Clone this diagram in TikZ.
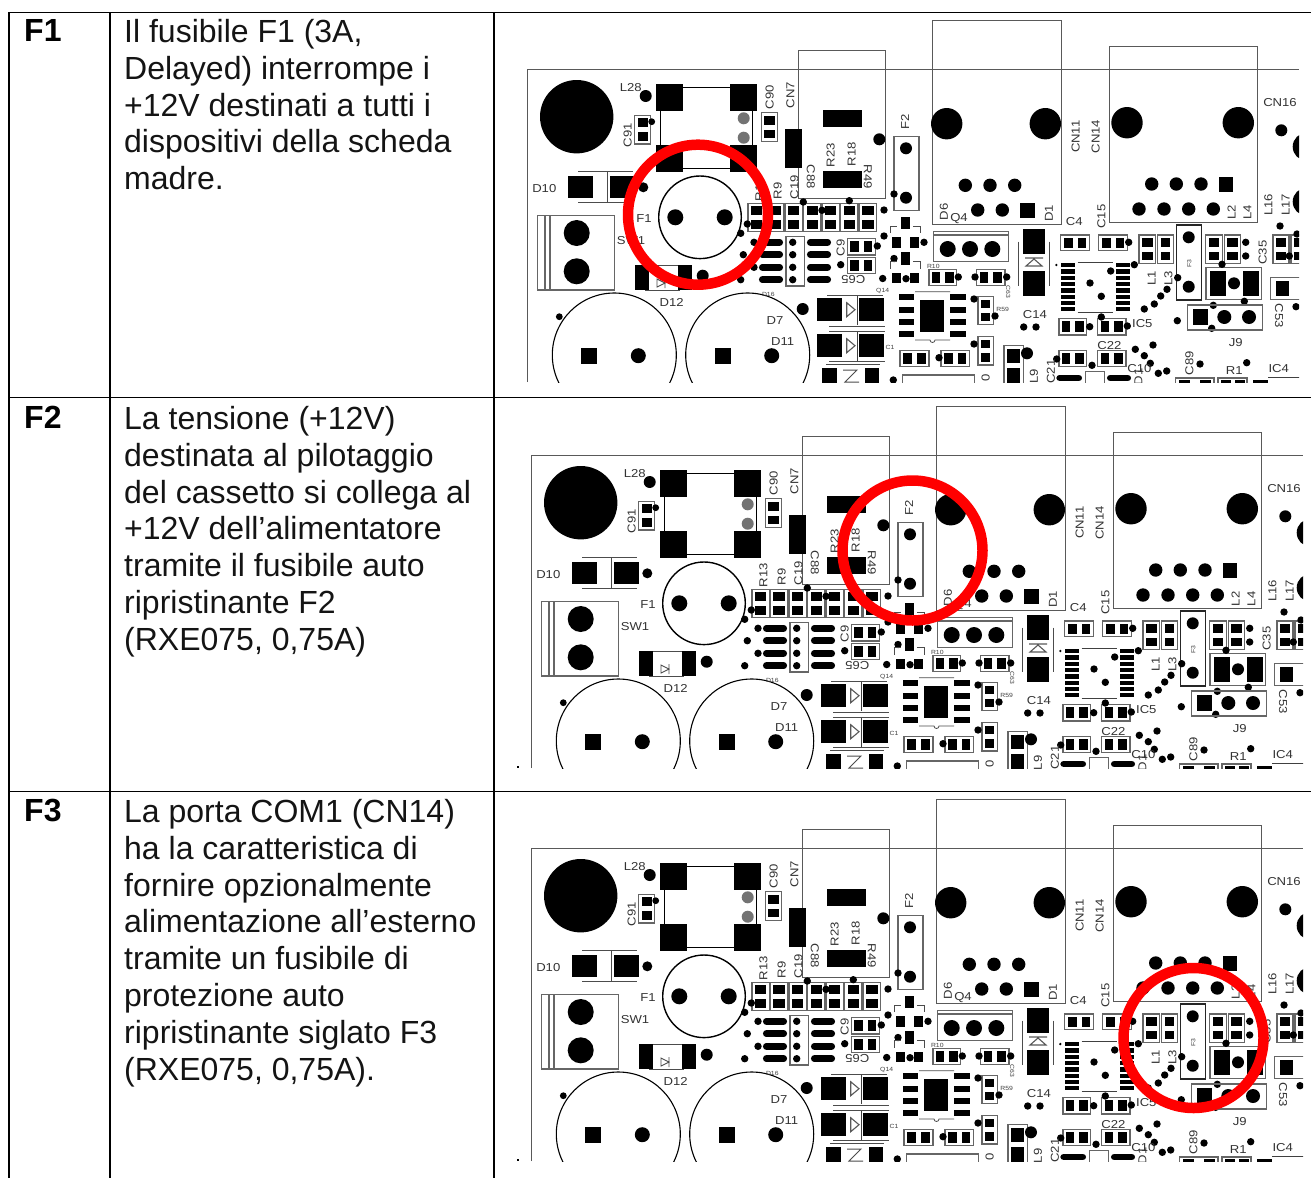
\documentclass[tikz,border=0pt]{standalone}
\usepackage{fontspec}
\setmainfont{Liberation Sans}
\newfontfamily\lblfont[FakeStretch=1.14]{Liberation Sans}
\newcount\lblc
\tikzset{
  x=1pt,y=-1pt,
  tline/.style={draw=black,line width=1.7pt},
  bline/.style={draw=black!65,line width=1pt},
  cline/.style={draw=black!60,line width=1.3pt},
  cell/.style={anchor=north west,inner sep=0pt,align=left,text=black!92,font=\fontsize{32}{36.85}\selectfont},
  cellb/.style={anchor=north west,inner sep=0pt,align=left,text=black,font=\bfseries\fontsize{32}{36.85}\selectfont},
  lbltxt/.style={inner sep=0pt,text=black!80,font=\lblfont\fontsize{11.5}{12}\selectfont},
  tiny/.style={inner sep=0pt,text=black!75,font=\lblfont\fontsize{6}{6}\selectfont},
  redring/.style={draw=red,line width=10.5pt}
}
\newcommand\pd[4]{\fill[black] (#1,#2) rectangle (#3,#4);}
\newcommand\hl[3]{\fill[black] (#1,#2) circle[radius=#3];}
\newcommand\hs[2]{\fill[black] (#1,#2) circle[radius=3.7];}
\newcommand\lb[4][]{\global\advance\lblc by 1 \node[lbltxt,#1] (lbl\the\lblc) at (#2,#3) {#4};}
\newcommand\lbt[4][]{\global\advance\lblc by 1 \node[tiny,#1] (lbl\the\lblc) at (#2,#3) {#4};}
% horizontal capacitor: box with pads left and right
\newcommand\cph[4]{\draw[cline] (#1,#2) rectangle (#3,#4);
  \fill[black] ({#1+3},{#2+2.6}) rectangle ({(#1+#3)/2-2.5},{#4-2.6});
  \fill[black] ({(#1+#3)/2+2.5},{#2+2.6}) rectangle ({#3-3},{#4-2.6});}
% vertical capacitor: pads top and bottom
\newcommand\cpv[4]{\draw[cline] (#1,#2) rectangle (#3,#4);
  \fill[black] ({#1+3},{#2+3}) rectangle ({#3-3},{(#2+#4)/2-2.5});
  \fill[black] ({#1+3},{(#2+#4)/2+2.5}) rectangle ({#3-3},{#4-3});}
\newcommand\ovl[3]{\draw[black,line width=6.7pt,line cap=round] ({#1+3},#3) -- ({#2-3},#3);}
\newcommand\board{%
  % outline and connector housings
  \draw[bline] (527.5,382) -- (527.5,69) -- (1299,69);
  \draw[bline] (798.7,198) -- (798.7,50) -- (885.7,50) -- (885.7,198) -- cycle;
  \draw[bline] (932,20.7) rectangle (1061.7,224);
  \draw[bline] (1109,46.7) rectangle (1257.3,222.7);
  % top left
  \hl{576.7}{116.7}{36.7}
  \hl{645.7}{96}{6}
  \draw[black,line width=1pt] (683,87.3) -- (730,87.3) (660.3,110) -- (660.3,145) (683,168) -- (730,168) (752.5,110) -- (752.5,145);
  \pd{656}{84}{683}{110.7} \pd{730}{84}{757}{110.7}
  \pd{656}{144.7}{683}{171.7} \pd{730}{144.7}{757}{171.7}
  \fill[black!55] (743.7,118.3) circle[radius=6] (743.7,137.7) circle[radius=6];
  \cpv{634.7}{115.3}{650.7}{144} \hl{651.7}{121.7}{3.4}
  \cpv{761.3}{112.7}{777.7}{141.3}
  \lb[rotate=90]{627.7}{135}{C91}
  \lb[rotate=90]{769.7}{97.3}{C90}
  \lb[rotate=90]{790.3}{95}{CN7}
  \lb{630.7}{88}{L28}
  \pd{785.3}{129}{802}{168}
  \pd{822.7}{110}{861.7}{127} \pd{822.7}{171}{861.7}{187.7}
  \hl{879.3}{139.3}{6}
  \lb[rotate=90]{830.7}{155}{R23}
  \lb[rotate=90]{851.7}{154}{R18}
  \lb[rotate=-90]{867.7}{176.7}{R49}
  \lb[rotate=-90]{810.7}{176.7}{C88}
  \lb[rotate=90]{905}{121.7}{F2}
  \draw[cline] (894,136.7) rectangle (919,210.7);
  \hl{906}{148.3}{6} \hl{906}{197.7}{6} \hs{894}{194}
  % D10
  \lb{544.3}{189}{D10}
  \pd{568.3}{175.7}{593.3}{198.3} \pd{610}{175.7}{635}{198.3}
  \draw[black!70,line width=.8pt] (578,171.7) -- (633,171.7) (607.7,171.7) -- (607.7,201.7) (578,202) -- (633,202);
  \hl{643.3}{187.3}{5}
  % fuse F1
  \draw[black,line width=1.4pt] (700,217.3) circle[radius=41.3];
  \hl{675.3}{217.3}{8} \hl{724.7}{217.3}{8}
  \lb{644}{218.3}{F1}
  % SW1
  \draw[cline] (537.3,215.3) rectangle (614.7,290);
  \draw[cline] (545,215.3) -- (545,290) (550,215.3) -- (550,290);
  \hl{576.7}{233}{13} \hl{576.7}{271.3}{13}
  \lb{631}{240.7}{SW1}
  % D12
  \draw[black!70,line width=.8pt] (649,265) -- (678,265) (645,290) -- (680,290);
  \pd{635}{265}{649.3}{290} \pd{677.7}{265}{692}{290}
  \draw[black!70,line width=.9pt] (657,279) -- (657,287) -- (665,283) -- cycle (665,278) -- (665,288);
  \hl{702.7}{275.7}{6}
  \lb{671.7}{302.3}{D12}
  % big capacitors
  \draw[black,line width=1.1pt] (614.3,355) circle[radius=62] (747.7,355) circle[radius=62];
  \pd{581.3}{347.7}{597.3}{364} \hl{638.3}{355.7}{7.5}
  \pd{714.7}{347.7}{730.7}{364} \hl{771.7}{355.7}{7.5}
  \hl{559.3}{316.7}{3.4}
  \lb{775}{320.7}{D7} \lb{782.7}{342}{D11} \lbt{768.3}{294.3}{D16}
  \hl{802.7}{309}{6}
  % resistor row
  \foreach \cx in {756.7,775,793.7,812.3,830.7,849.3,868}{\cpv{\cx-8.7}{203.3}{\cx+8.7}{231.7}}
  \lb[rotate=90]{759.3}{189}{R13}
  \lb[rotate=90]{777.7}{191}{R9}
  \lb[rotate=90]{794.3}{187}{C19}
  \hs{803.3}{202} \hs{849.3}{200.7} \hs{822}{210.3} \hs{884}{210}
  \hs{747.3}{224} \hs{740.7}{233.3}
  % ovals and connector
  \foreach \yy in {242.3,254.7,267.3,279.7}{\ovl{759.3}{782.7}{\yy} \ovl{807.3}{830.7}{\yy} \hs{792.7}{\yy}}
  \hs{754}{242.3} \hs{743.3}{254.7} \hs{754}{267.3} \hs{740.7}{279.7}
  \draw[cline] (786,236.7) rectangle (804.3,286);
  \cph{847.3}{238.7}{875.3}{255} \cph{847.3}{257.7}{875.3}{273.3}
  \lb[rotate=90]{840.7}{248}{C9}
  \lb[rotate=180]{853.3}{279.3}{C65}
  \hs{877.3}{246} \hs{840.7}{264.7} \hs{884}{236} \hs{882.7}{278.5} \hs{894}{258.5} \hs{924}{242.3} \hs{906}{278.7}
  % transistors
  \foreach \dy in {0,35.7}{
    \pd{900.7}{216.7+\dy}{910}{229.3+\dy}
    \pd{891.7}{237.3+\dy}{901}{247.7+\dy}
    \pd{910}{237.3+\dy}{919.3}{247.7+\dy}
    \draw[black!70,line width=.8pt] (890.7,233+\dy) -- (890.7,226+\dy) -- (897,226+\dy) (913,226+\dy) -- (920.7,226+\dy) -- (920.7,233+\dy);
  }
  % Q4
  \draw[cline] (933.3,231.7) rectangle (1008.3,261.7) (933.3,235) -- (1008.3,235);
  \hl{947.7}{249}{8} \hl{970}{249}{8} \hl{992.3}{249}{8}
  \cph{929}{269.3}{956.7}{285.7} \hs{958.3}{277}
  \cph{976.7}{269.3}{1005}{285.7} \hs{975}{277} \hs{1006.7}{277}
  \lbt{933.3}{266.3}{R10}
  \lbt[rotate=-90]{1008.3}{291.7}{C63}
  % diode pairs
  \foreach \dy in {0,36}{
    \pd{817.3}{298.3+\dy}{842}{321+\dy} \pd{859}{298.3+\dy}{884}{321+\dy}
    \draw[black!65,line width=1.1pt] (846.7,302.7+\dy) -- (846.7,316.7+\dy) -- (855,309.7+\dy) -- cycle;
    \draw[black!75,line width=1pt] (857.3,295+\dy) -- (857.3,325+\dy);
  }
  \draw[black!70,line width=.8pt] (827,295.7) -- (883,295.7) (829,326) -- (885,326) (829,331) -- (885,331) (829,361.5) -- (885,361.5);
  \lbt{882.7}{291}{Q14} \lbt{890}{347.7}{C1}
  % third diode, cut by the edge
  \pd{821.7}{368}{836.7}{385} \pd{865}{368}{879.3}{385}
  \draw[black!70,line width=.8pt] (826,364) -- (880,364);
  \draw[black!70,line width=1pt] (843,370) -- (857,370) -- (845,382) -- (859,382);
  % 8 pin IC
  \foreach \yy in {294,306.7,319,331}{\pd{899}{\yy}{914.3}{\yy+6} \pd{950.3}{\yy}{966}{\yy+6}}
  \pd{920.3}{300}{944.3}{331.7}
  \draw[black!70,line width=.8pt] (915,291.7) -- (950,291.7) (915,340) -- (930,340) arc[start angle=180,end angle=0,radius=2.5] -- (950,340);
  \cpv{978}{296.7}{993.3}{324.3} \hs{974}{299} \hs{995}{316}
  \cpv{978}{336.7}{993.3}{365} \hs{974}{344}
  \lbt{1002.7}{309.3}{R59}
  \cph{900}{350.7}{929}{366.7} \cph{941}{350.7}{969.3}{366.7} \hs{939}{357.7}
  \cpv{1004}{345.7}{1023.3}{386} \hl{1027}{353.3}{6}
  \draw[cline] (902.3,386) -- (902.3,375) -- (974.3,375) -- (974.3,386);
  \lb[rotate=90]{985.7}{378.3}{0}
  \lb[rotate=90]{1034}{376.7}{L9}
  \hs{893.3}{380}
  % CN11
  \hl{946.7}{123.7}{15.7} \hl{1045.3}{123.7}{15.7}
  \hl{965.3}{185.3}{6.7} \hl{990}{185.3}{6.7} \hl{1014.7}{185.3}{6.7}
  \hl{977.7}{210}{6.7} \hl{1002.3}{210}{6.7}
  \pd{1020}{203}{1034.7}{217.7}
  \lb[rotate=90]{944}{211.7}{D6} \lb{959}{219}{Q4} \lb[rotate=90]{1049}{213.3}{D1}
  \lb[rotate=90]{1075.7}{136.7}{CN11} \lb[rotate=90]{1095.7}{136.7}{CN14}
  % CN14
  \hl{1127}{122.7}{15.7} \hl{1238.3}{122.7}{15.7}
  \hl{1151.7}{184}{6.7} \hl{1176.3}{184}{6.7} \hl{1201}{184}{6.7}
  \pd{1219}{176.7}{1233.3}{191.7}
  \hl{1139}{209}{6.7} \hl{1164}{209}{6.7} \hl{1188.7}{209}{6.7} \hl{1213.3}{209}{6.7}
  \lb[rotate=90]{1231.7}{212.7}{L2} \lb[rotate=90]{1247.3}{212.7}{L4}
  \lb[rotate=90]{1268.3}{205}{L16} \lb[rotate=90]{1285.7}{205}{L17}
  \lb{1074.3}{221.7}{C4} \lb[rotate=90]{1101.3}{216.7}{C15}
  \lb{1280}{102.7}{CN16}
  \hl{1281.3}{130.3}{6} \hl{1306.7}{146.7}{14} \hl{1306.7}{201.7}{14}
  % vertical diode
  \pd{1022.7}{229}{1045}{254.3} \pd{1022.7}{270.7}{1045}{296}
  \draw[black!65,line width=1.1pt] (1025,258) -- (1043,258) (1026,266) -- (1042,266) -- (1034,259) -- cycle;
  \draw[black!70,line width=.8pt] (1018.7,241.7) -- (1018.7,286) (1049,241.7) -- (1049,286);
  % small caps
  \cph{1060.7}{235}{1089.3}{250.7} \cph{1098.7}{235}{1127.3}{250.7} \hs{1128.7}{242.3}
  \cpv{1139}{235}{1155.7}{263.3} \cpv{1157.7}{235}{1173.3}{263.3}
  \draw[black!85,line width=1.5pt] (1176.7,225) rectangle (1201.7,300);
  \hl{1188.7}{237.3}{6} \hl{1188.7}{286.7}{6}
  \lbt[rotate=90]{1189.3}{263.3}{F3}
  \cpv{1205.7}{235}{1222.3}{263.3} \cpv{1224.3}{235}{1240.7}{263.3}
  \hs{1245.7}{242.3} \hs{1245.7}{256}
  \lb[rotate=90]{1262.7}{252.7}{C35}
  \cpv{1273}{235}{1289}{263.3} \cpv{1291}{235}{1307}{263.3}
  \hs{1280}{226} \hs{1289.3}{256} \hs{1297}{234}
  % IC5
  \foreach \yy in {263,269.3,275.6,281.9,288.2,294.5,300.8,307.1}{\pd{1060.7}{\yy}{1075}{\yy+4.3} \pd{1115.7}{\yy}{1130}{\yy+4.3}}
  \draw[black!75,line width=.9pt] (1077.7,262.3) -- (1112.7,262.3) (1077.7,312) -- (1112.7,312);
  \fill[black] (1056.3,265) circle[radius=1.3];
  \hs{1090}{283} \hs{1101.3}{296.3} \hs{1110.7}{271} \hs{1134.3}{264.7}
  \hs{1144.3}{309} \hs{1154.3}{304} \hs{1160.7}{296} \hs{1167}{289.3} \hs{1177.7}{277.7}
  \lb[rotate=90]{1151.7}{278.3}{L1} \lb[rotate=90]{1168.3}{278.3}{L3}
  % block with two pads
  \draw[cline] (1206,267.3) rectangle (1261.7,299.3);
  \pd{1210}{270.7}{1226}{296} \pd{1243.3}{270.7}{1259.3}{296}
  \hl{1234}{283.3}{6}
  \hs{1222}{264.3} \hs{1244.3}{301.3} \hs{1213.3}{305.3} \hs{1211.7}{328.3}
  % J9
  \draw[cline] (1187.7,305) rectangle (1262.3,330);
  \pd{1192.7}{309.3}{1207.7}{325}
  \hl{1224.3}{317}{7} \hl{1249}{317}{7}
  \hs{1177.3}{320.7}
  \lb{1235.7}{342.3}{J9}
  % C53
  \draw[cline] (1305,277.7) -- (1270.7,277.7) -- (1270.7,299.3) -- (1305,299.3);
  \pd{1275.7}{281}{1289.3}{296}
  \lb[rotate=-90]{1279}{316}{C53}
  \hs{1296}{306.7}
  % lower area
  \lb{1035}{314.7}{C14}
  \hs{1023.7}{327} \hs{1036}{327}
  \cph{1059}{318.7}{1086.7}{335} \hs{1089.7}{326.7}
  \cph{1097.7}{318.7}{1126}{335} \hs{1101.3}{317} \hs{1127.3}{326}
  \lb{1142.3}{323.7}{IC5}
  \lb{1109.3}{345.3}{C22}
  \draw[black!75,line width=.8pt] (1098,350) -- (1121,350);
  \cph{1059}{350.7}{1086.7}{366.7} \cph{1097.7}{350.7}{1126}{366.7}
  \hs{1056.7}{359} \hs{1092}{365.3}
  \hs{1135.3}{349.3} \hs{1144.3}{355.7} \hs{1153}{345} \hs{1150.3}{363.3} \hs{1166.7}{371} \hs{1158.3}{373.3}
  \lb{1139.3}{368.3}{C10}
  \lb[rotate=90]{1051}{371.7}{C21}
  \ovl{1056.7}{1081.7}{378} \ovl{1107.3}{1130.7}{378}
  \draw[cline] (1085.7,386) -- (1085.7,371.7) -- (1104.3,371.7) -- (1104.3,386);
  \lb[rotate=90]{1138.3}{376.7}{D1}
  \lb[rotate=90]{1189.3}{363.3}{C89} \hs{1200}{364}
  \lb{1234.3}{371}{R1} \hs{1246.7}{362.7}
  \lb{1278.7}{368.3}{IC4}
  \draw[black!75,line width=.8pt] (1268,377.7) -- (1305,377.7);
  \draw[cline] (1175.7,386) -- (1175.7,378) -- (1214,378) -- (1214,386) (1218,386) -- (1218,378) -- (1247,378) -- (1247,386);
  \pd{1179}{380}{1190}{386} \pd{1200}{380}{1211}{386} \pd{1221}{380}{1231}{386} \pd{1235}{380}{1245}{386}
  \pd{1253}{380}{1268}{386}
}
\begin{document}
\begin{tikzpicture}
\useasboundingbox (0,0) rectangle (1311,1178);
\fill[white] (0,0) rectangle (1311,1178);
% three views of the board
\begin{scope}
  \clip (520,13) rectangle (1299,382);
  \board
\end{scope}
\begin{scope}[shift={(4,386)}]
  \clip (520,13) rectangle (1299,382);
  \board
\end{scope}
\begin{scope}[shift={(4,779)}]
  \clip (520,13) rectangle (1299,382.5);
  \board
\end{scope}
\fill[black] (516.5,766) rectangle (518.5,768);
\fill[black] (516.5,1159) rectangle (518.5,1161);
% highlight rings
\draw[redring] (698,214.7) circle[radius=70];
\draw[redring] (912.5,550.5) circle[radius=70];
\draw[redring] (1193.5,1038) circle[radius=70];
% table rules
\draw[tline] (9,12.5) -- (1311,12.5);
\draw[tline] (9,397.5) -- (1311,397.5);
\draw[tline] (9,791.5) -- (1311,791.5);
\draw[tline] (9,12) -- (9,1178);
\draw[tline] (110,12) -- (110,1178);
\draw[tline] (494,12) -- (494,1178);
% cell text
\node[cellb] (h1) at (24,19) {F1};
\node[cell] (t1) at (124,19) {Il fusibile F1 (3A,\\Delayed) interrompe i\\+12V destinati a tutti i\\dispositivi della scheda\\madre.};
\node[cellb] (h2) at (24,406) {F2};
\node[cell] (t2) at (124,406) {La tensione (+12V)\\destinata al pilotaggio\\del cassetto si collega al\\+12V dell’alimentatore\\tramite il fusibile auto\\ripristinante F2\\(RXE075, 0,75A)};
\node[cellb] (h3) at (24,799) {F3};
\node[cell] (t3) at (124,799) {La porta COM1 (CN14)\\ha la caratteristica di\\fornire opzionalmente\\alimentazione all’esterno\\tramite un fusibile di\\protezione auto\\ripristinante siglato F3\\(RXE075, 0,75A).};
\end{tikzpicture}
\end{document}
